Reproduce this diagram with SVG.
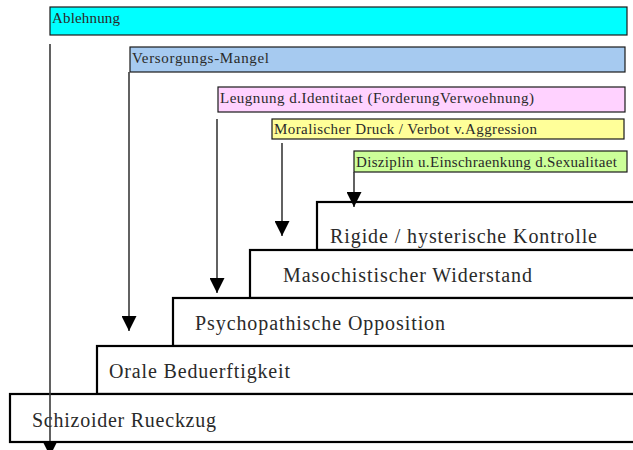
<svg xmlns="http://www.w3.org/2000/svg" width="633" height="450" viewBox="0 0 633 450">
  <style>
    .bg { fill: #ffffff; }
    .label { stroke: #1a1a1a; stroke-width: 1.2; }
    .label-text { font-family: "Liberation Serif", "DejaVu Serif", serif; font-size: 15px; fill: #2a2a2a; }
    .step { fill: #ffffff; stroke: #000000; stroke-width: 2.2; }
    .step-text { font-family: "Liberation Serif", "DejaVu Serif", serif; font-size: 20px; fill: #2a2a2a; }
    .conn { stroke: #3a3a3a; stroke-width: 1.6; fill: none; marker-end: url(#head); }
  </style>
  <defs>
    <marker id="head" markerUnits="userSpaceOnUse" markerWidth="15" markerHeight="15" viewBox="0 0 14 14" refX="14" refY="7" orient="auto">
      <path d="M0,0 L14,7 L0,14 Z" fill="#000000"/>
    </marker>
  </defs>

  <rect class="bg" x="0" y="0" width="633" height="450"/>

  <!-- staircase of character levels, top step first -->
  <g id="step-rigide">
    <rect class="step" x="317" y="202" width="330" height="48"/>
    <text class="step-text" x="330" y="243" textLength="267" lengthAdjust="spacing">Rigide / hysterische Kontrolle</text>
  </g>
  <g id="step-masochistisch">
    <rect class="step" x="250" y="250" width="400" height="48"/>
    <text class="step-text" x="283" y="282" textLength="249" lengthAdjust="spacing">Masochistischer Widerstand</text>
  </g>
  <g id="step-psychopathisch">
    <rect class="step" x="173" y="298" width="480" height="48"/>
    <text class="step-text" x="195" y="330" textLength="250" lengthAdjust="spacing">Psychopathische Opposition</text>
  </g>
  <g id="step-oral">
    <rect class="step" x="97" y="346" width="560" height="48"/>
    <text class="step-text" x="109" y="378" textLength="181" lengthAdjust="spacing">Orale Beduerftigkeit</text>
  </g>
  <g id="step-schizoid">
    <rect class="step" x="10" y="394" width="650" height="48"/>
    <text class="step-text" x="32" y="427" textLength="184" lengthAdjust="spacing">Schizoider Rueckzug</text>
  </g>

  <!-- influence labels -->
  <g id="label-ablehnung">
    <rect class="label" x="50" y="7" width="577" height="28" fill="#00ffff"/>
    <text class="label-text" x="52" y="23" textLength="68" lengthAdjust="spacing">Ablehnung</text>
  </g>
  <g id="label-versorgung">
    <rect class="label" x="130" y="47" width="495" height="25" fill="#a6caf0"/>
    <text class="label-text" x="132" y="63" textLength="137" lengthAdjust="spacing">Versorgungs-Mangel</text>
  </g>
  <g id="label-leugnung">
    <rect class="label" x="218" y="87" width="407" height="25" fill="#ffd2ff"/>
    <text class="label-text" x="220" y="103" textLength="314" lengthAdjust="spacing">Leugnung d.Identitaet (ForderungVerwoehnung)</text>
  </g>
  <g id="label-moral">
    <rect class="label" x="272" y="119" width="352" height="20" fill="#ffff99"/>
    <text class="label-text" x="274" y="134" textLength="263" lengthAdjust="spacing">Moralischer Druck / Verbot v.Aggression</text>
  </g>
  <g id="label-disziplin">
    <rect class="label" x="354" y="151" width="273" height="21" fill="#ccff99"/>
    <text class="label-text" x="356" y="167" textLength="261" lengthAdjust="spacing">Disziplin u.Einschraenkung d.Sexualitaet</text>
  </g>

  <!-- connectors from each influence down to its step -->
  <g id="connectors">
    <line class="conn" x1="50" y1="44" x2="50" y2="456"/>
    <line class="conn" x1="129" y1="72" x2="129" y2="331"/>
    <line class="conn" x1="217" y1="119" x2="217" y2="293"/>
    <line class="conn" x1="282" y1="143" x2="282" y2="236"/>
    <line class="conn" x1="354" y1="172" x2="354" y2="207"/>
  </g>
</svg>
